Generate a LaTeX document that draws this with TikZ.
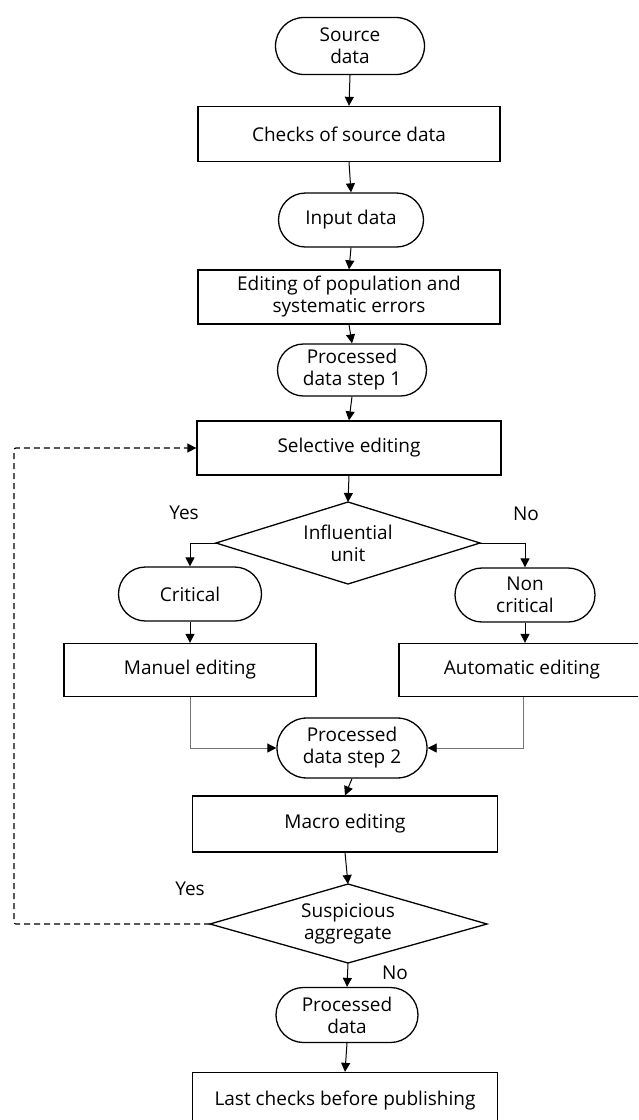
\documentclass[tikz,border=0pt]{standalone}
\usepackage{fontspec}
\setmainfont{Open Sans}
\usetikzlibrary{shapes.misc,arrows.meta,calc}
\begin{document}
\begin{tikzpicture}[x=1pt,y=-1pt,
  font=\fontsize{19}{22}\selectfont,
  box/.style={draw, line width=1.3pt, rectangle, minimum width=#1, inner sep=0pt, align=center},
  term/.style={draw, line width=1.3pt, rounded rectangle, minimum width=#1, inner sep=0pt, align=center},
  arr/.style={-{Triangle[length=9pt,width=9pt]}, line width=1pt},
  garr/.style={-{Triangle[length=9pt,width=9pt,color=black]}, line width=0.8pt, draw=black!55},
  lbl/.style={inner sep=0pt},
  dia/.style={line width=1.3pt, line join=miter}]
\useasboundingbox (0,0) rectangle (638,1120);
\clip (0,0) rectangle (638,1120);

\node[term=149pt, minimum height=57pt] (src) at (350,46) {Source\\data};
\node[box=302pt, minimum height=55pt] (chk) at (349,134) {Checks of source data};
\node[term=145pt, minimum height=54pt] (inp) at (351,220) {Input data};
\node[box=302pt, minimum height=54pt] (edt) at (349,297) {Editing of population and\\systematic errors};
\node[term=149pt, minimum height=52pt] (p1) at (352,370) {Processed\\data step 1};
\node[box=304pt, minimum height=54pt] (sel) at (349,448) {Selective editing};

\node[lbl, align=center] (inf) at (348,543) {Influential\\unit};
\coordinate (infT) at (348,502);
\coordinate (infR) at (480,543);
\coordinate (infB) at (348,584);
\coordinate (infL) at (216,543);
\draw[dia] (infT) -- (infR) -- (infB) -- (infL) -- cycle;

\node[term=143pt, minimum height=54pt] (crit) at (190,594) {Critical};
\node[term=140pt, minimum height=54pt] (ncrit) at (525,595) {Non\\critical};
\node[box=252pt, minimum height=53pt] (man) at (190,670) {Manuel editing};
\node[box=246pt, minimum height=53pt] (aut) at (522,670) {Automatic editing};
\node[term=150pt, minimum height=60pt] (p2) at (352,748) {Processed\\data step 2};
\node[box=305pt, minimum height=56pt] (mac) at (345,824) {Macro editing};

\node[lbl, align=center] (sus) at (348,924) {Suspicious\\aggregate};
\coordinate (susT) at (348,884);
\coordinate (susR) at (487,924);
\coordinate (susB) at (348,963);
\coordinate (susL) at (210,924);
\draw[dia] (susT) -- (susR) -- (susB) -- (susL) -- cycle;

\node[term=142pt, minimum height=55pt] (pd) at (347,1015) {Processed\\data};
\node[box=305pt, minimum height=55pt] (last) at (345,1100) {Last checks before publishing};

\node[lbl] (y1) at (184,513) {Yes};
\node[lbl] (n1) at (526,514) {No};
\node[lbl] (y2) at (190,889) {Yes};
\node[lbl] (n2) at (395,973) {No};

\coordinate (loopB) at (14,924);
\coordinate (loopT) at (14,448);

\draw[arr] (src.south) -- (chk.north);
\draw[arr] (chk.south) -- (inp.north);
\draw[arr] (inp.south) -- (edt.north);
\draw[arr] (edt.south) -- (p1.north);
\draw[arr] (p1.south) -- (sel.north);
\draw[arr] (sel.south) -- (infT);
\draw[arr] (infL) -| (crit.north);
\draw[arr] (infR) -| (ncrit.north);
\draw[arr] (crit.south) -- (man.north);
\draw[arr] (ncrit.south) -- (ncrit.south |- aut.north);
\draw[garr] (man.south) |- (p2.west);
\draw[garr] ($(aut.south)+(1,0)$) |- (p2.east);
\draw[arr] (p2.south) -- (mac.north);
\draw[arr] (mac.south) -- (susT);
\draw[arr] (susB) -- (pd.north);
\draw[arr] (pd.south) -- (last.north);
\draw[arr, line width=1.2pt, dash pattern=on 6pt off 4pt, rounded corners=2pt] (susL) -- (loopB) -- (loopT) -- (sel.west);
\end{tikzpicture}
\end{document}
